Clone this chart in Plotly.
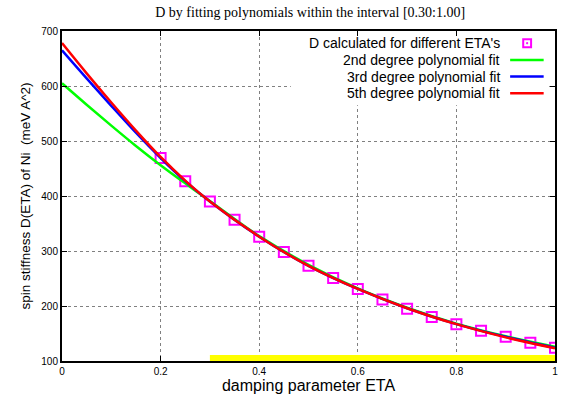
import plotly.graph_objects as go

# ---- data ----
eta = [0.20, 0.25, 0.30, 0.35, 0.40, 0.45, 0.50, 0.55, 0.60, 0.65,
       0.70, 0.75, 0.80, 0.85, 0.90, 0.95, 1.00]
d_values = [469, 427, 390, 357, 326, 298, 273, 251, 231, 212,
            195, 180, 167, 155, 144, 133, 124]

fit_x = [0.00, 0.05, 0.10, 0.15, 0.20, 0.25, 0.30, 0.40, 0.50, 0.60, 0.70, 0.80, 0.90, 1.00]
fit2 = [605, 566, 528, 491, 456, 423, 391, 327, 275, 232, 197, 168, 145, 126]
fit3 = [665, 614, 564, 515, 469, 427, 390, 326, 273, 231, 196, 167, 144, 124]
fit5 = [678, 623, 570, 519, 471, 428, 390, 326, 273, 231, 196, 167, 143, 123]

interval = [0.30, 1.00]
x_ticks = [0, 0.2, 0.4, 0.6, 0.8, 1]
x_ticklabels = ["0", "0.2", "0.4", "0.6", "0.8", "1"]
y_ticks = [100, 200, 300, 400, 500, 600, 700]

names = ["D calculated for different ETA's", "2nd degree polynomial fit",
         "3rd degree polynomial fit", "5th degree polynomial fit"]

MAG = "#ff00ff"
GRN = "#00ff00"
BLU = "#0000ff"
RED = "#ff0000"

fig = go.Figure()
fig.add_trace(go.Scatter(x=eta, y=d_values, mode="markers",
                         marker=dict(symbol="square-open", size=10, color=MAG,
                                     line=dict(width=2, color=MAG)),
                         name=names[0], showlegend=False))
for ys, col, nm in [(fit2, GRN, names[1]), (fit3, BLU, names[2]), (fit5, RED, names[3])]:
    fig.add_trace(go.Scatter(x=fit_x, y=ys, mode="lines", line=dict(color=col, width=2.5, shape="spline"),
                             name=nm, showlegend=False))

# yellow fitting interval bar
fig.add_shape(type="rect", xref="x", yref="y", x0=interval[0], x1=interval[1], y0=100, y1=111,
              fillcolor="#ffff00", line=dict(width=0), layer="above")

# legend (gnuplot style: text left of sample), with opaque background
fig.add_shape(type="rect", xref="paper", yref="paper", x0=0.464, x1=0.988, y0=0.775, y1=0.982,
              fillcolor="white", line=dict(width=0), layer="above")
ly = [0.963, 0.912, 0.862, 0.811]
tx = 0.893
for i, nm in enumerate(names):
    fig.add_annotation(xref="paper", yref="paper", x=tx, y=ly[i], text=nm, showarrow=False,
                       xanchor="right", yanchor="middle",
                       font=dict(family="Liberation Sans, Arial", size=14, color="black"))
fig.add_shape(type="rect", xref="paper", yref="paper", x0=0.9355, x1=0.9515,
              y0=ly[0] - 0.012, y1=ly[0] + 0.012, line=dict(color=MAG, width=2),
              fillcolor="rgba(0,0,0,0)", layer="above")
fig.add_shape(type="rect", xref="paper", yref="paper", x0=0.9425, x1=0.9445,
              y0=ly[0] - 0.002, y1=ly[0] + 0.002, line=dict(color=MAG, width=1),
              fillcolor=MAG, layer="above")
for i, col in zip([1, 2, 3], [GRN, BLU, RED]):
    fig.add_shape(type="line", xref="paper", yref="paper", x0=0.909, x1=0.977, y0=ly[i], y1=ly[i],
                  line=dict(color=col, width=2.5), layer="above")

axis_common = dict(showline=True, linecolor="black", linewidth=2, mirror="ticks",
                   ticks="inside", ticklen=5, tickwidth=1, tickcolor="black",
                   showgrid=True, gridcolor="#808080", griddash="dot", gridwidth=1,
                   zeroline=False,
                   tickfont=dict(family="Liberation Sans, Arial", size=10, color="black"))

fig.update_layout(
    width=562, height=397,
    margin=dict(l=62, r=4, t=31, b=36),
    paper_bgcolor="white", plot_bgcolor="white",
    title=dict(text="D by fitting polynomials within the interval [0.30:1.00]",
               x=0.552, xanchor="center", y=0.97, yanchor="middle",
               font=dict(family="Liberation Serif, Times New Roman", size=14, color="black")),
    xaxis=dict(range=[0, 1], tickvals=x_ticks, ticktext=x_ticklabels,
               title=dict(text="damping parameter ETA", standoff=4,
                          font=dict(family="Liberation Sans, Arial", size=16, color="black")),
               **axis_common),
    yaxis=dict(range=[100, 700], tickvals=y_ticks,
               title=dict(text="spin stiffness D(ETA) of Ni  (meV A^2)", standoff=8,
                          font=dict(family="Liberation Sans, Arial", size=13.5, color="black")),
               **axis_common),
    showlegend=False,
)

fig.write_html("out.html", config={"displayModeBar": False},
               post_script="document.body.style.margin='0';")
